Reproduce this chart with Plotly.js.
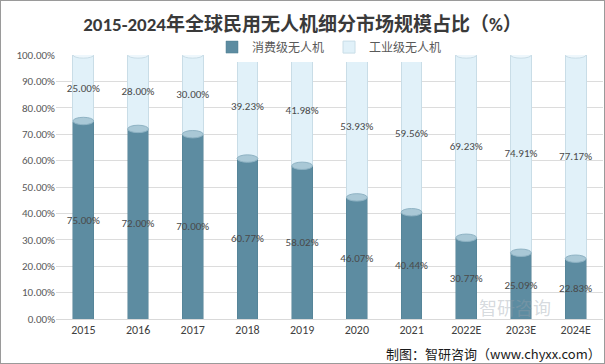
<!DOCTYPE html>
<html><head><meta charset="utf-8">
<script src="https://cdn.plot.ly/plotly-3.0.1.min.js"></script>
<style>html,body{margin:0;padding:0;background:#fff}#c{width:603px;height:362px;border:1px solid #9a9a9a}</style>
</head><body><div id="c"></div>
<script>
const categories = ['2015','2016','2017','2018','2019','2020','2021','2022E','2023E','2024E'];
const consumer = [75.00,72.00,70.00,60.77,58.02,46.07,40.44,30.77,25.09,22.83];
const industrial = [25.00,28.00,30.00,39.23,41.98,53.93,59.56,69.23,74.91,77.17];
const seriesNames = ['消费级无人机','工业级无人机'];
const yTicks = [0,10,20,30,40,50,60,70,80,90,100];

const font = 'Calibri, "Liberation Sans", "Noto Sans CJK SC", sans-serif';
const dark = '#5d8ca1', light = '#e1f1f9';

const traces = [
  {type:'bar', name:seriesNames[0], x:categories, y:consumer,
   marker:{color:dark, line:{color:'#4f7d91', width:0.5}},
   text:consumer.map(v=>v.toFixed(2)+'%'), textposition:'inside', insidetextanchor:'middle', textangle:0,
   constraintext:'none', cliponaxis:false,
   textfont:{color:'#4a4a4a', size:11, family:font}, hoverinfo:'skip'},
  {type:'bar', name:seriesNames[1], x:categories, y:industrial,
   marker:{color:light, line:{color:'#c9dde7', width:1}},
   text:industrial.map(v=>v.toFixed(2)+'%'), textposition:'inside', insidetextanchor:'middle', textangle:0,
   constraintext:'none', cliponaxis:false,
   textfont:{color:'#4a4a4a', size:11, family:font}, hoverinfo:'skip'}
];

// cylinder caps derived from the data
const shapes = [];
categories.forEach((c,i)=>{
  shapes.push({type:'circle', xref:'x', yref:'y', x0:i-0.19, x1:i+0.19, y0:consumer[i]-1.4, y1:consumer[i]+1.4,
    fillcolor:'#a9c8d6', line:{color:'#8fb3c4', width:1}, layer:'above'});
  shapes.push({type:'circle', xref:'x', yref:'y', x0:i-0.19, x1:i+0.19, y0:100-1.2, y1:100+1.2,
    fillcolor:'#eef7fc', line:{color:'#c9dde7', width:1}, layer:'above'});
});

const layout = {
  width:603, height:362, barmode:'stack', bargap:0.62, constraintext:'none',
  margin:{l:55, r:1, t:54, b:44},
  paper_bgcolor:'#fff', plot_bgcolor:'#fff',
  title:{text:'<b>2015-2024年全球民用无人机细分市场规模占比（%）</b>', x:0.5, xanchor:'center', y:0.936, yanchor:'middle',
    font:{family:font, size:19, color:'#3a3a3a'}},
  showlegend:true,
  legend:{orientation:'h', x:0.5, xanchor:'center', y:1.03, yanchor:'middle',
    font:{family:font, size:12, color:'#595959'}, traceorder:'normal'},
  xaxis:{type:'category', tickfont:{family:font, size:12, color:'#404040'}, showline:true, linecolor:'#d9d9d9',
    ticks:'', ticklen:0, fixedrange:true},
  yaxis:{range:[0,100], tickvals:yTicks, ticktext:yTicks.map(v=>v.toFixed(2)+'%'),
    tickfont:{family:font, size:11, color:'#595959'}, gridcolor:'#dcdcdc', zeroline:false, showline:false, ticks:''},
  shapes:shapes,
  annotations:[
    {text:'智研咨询', xref:'paper', yref:'paper', x:0.84, y:-0.012, xanchor:'center', yanchor:'bottom', showarrow:false,
     font:{family:'"Noto Sans CJK SC", sans-serif', size:18, color:'rgba(150,160,170,0.4)'}},
    {text:'制图：智研咨询（www.chyxx.com）', xref:'paper', yref:'paper', x:1, y:-0.13, xanchor:'right', yanchor:'middle', showarrow:false,
     font:{family:'"Noto Sans CJK SC", sans-serif', size:13, color:'#1a1a1a'}}
  ]
};
Plotly.newPlot('c', traces, layout, {displayModeBar:false, staticPlot:true});
</script></body></html>
